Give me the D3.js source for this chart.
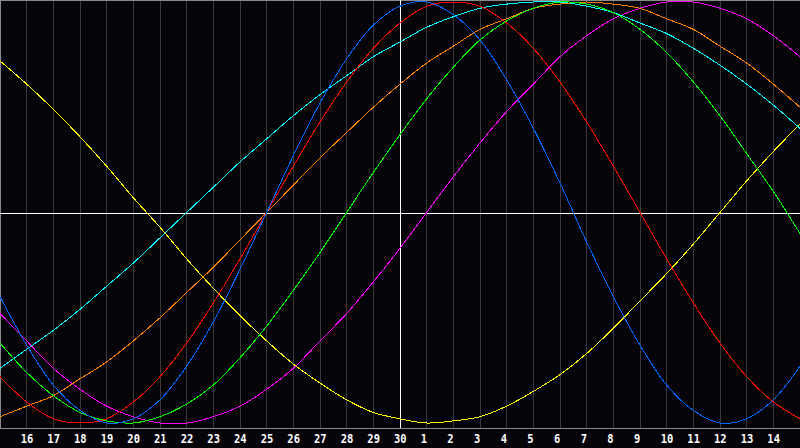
<!DOCTYPE html>
<html><head><meta charset="utf-8">
<script src="https://cdn.jsdelivr.net/npm/d3@7"></script>
<style>html,body{margin:0;padding:0;background:#050509;overflow:hidden}</style>
</head><body>
<svg id="c" width="800" height="448"></svg>
<script>
// Day tick labels (gridlines 1..29)
const dayLabels = ["16","17","18","19","20","21","22","23","24","25","26","27","28","29","30","1","2","3","4","5","6","7","8","9","10","11","12","13","14"];
// Sample positions (day index 0..30)
const dayIndex = d3.range(0, 31);
// Series values (percent, -100..100), read at each day line
const physical   = [-40,-63,-82,-94,-100,-98,-89,-73,-52,-27,0,27,52,73,89,98,100,94,82,63,40,14,-14,-40,-63,-82,-94,-100,-98,-89,-73];
const emotional  = [-78,-90,-98,-100,-98,-90,-78,-62,-43,-22,0,22,43,62,78,90,98,100,98,90,78,62,43,22,0,-22,-43,-62,-78,-90,-98];
const intellect  = [-62,-76,-87,-95,-99,-100,-97,-91,-82,-69,-54,-37,-19,0,19,37,54,69,82,91,97,100,99,95,87,76,62,46,28,10,-10];
const intuitive  = [-48,-61,-74,-84,-92,-97,-100,-100,-97,-92,-84,-74,-61,-48,-33,-17,0,17,33,48,61,74,84,92,97,100,100,97,92,84,74];
const aesthetic  = [72,61,49,36,22,7,-7,-22,-36,-49,-61,-72,-81,-89,-95,-98,-100,-99,-97,-92,-85,-77,-67,-55,-42,-29,-15,0,15,29,42];
const awareness  = [-97,-92,-87,-79,-71,-61,-50,-38,-26,-13,0,13,26,38,50,61,71,79,87,92,97,99,100,99,97,92,87,79,71,61,50];
const spiritual  = [-74,-65,-56,-46,-35,-24,-12,0,12,24,35,46,56,65,74,81,88,93,97,99,100,100,98,95,90,85,78,70,61,51,40];

const seriesNames = ["aesthetic","intuitive","spiritual","awareness","intellect","emotional","physical"];
const seriesValues = [aesthetic, intuitive, spiritual, awareness, intellect, emotional, physical];
const seriesColors = ["#ffff00","#ff00ff","#00ffff","#ff8000","#00ff00","#ff0000","#0066ff"];

const W = 800, H = 448, plotBottom = 428;
const svg = d3.select("#c");
const x = d3.scaleLinear().domain([0, 30]).range([0, W]);
const y = d3.scaleLinear().domain([-100, 100]).range([423, 2]);

svg.append("rect").attr("width", W).attr("height", H).attr("fill", "#050509");

// vertical grid lines via axis
const gridAxis = d3.axisBottom(x).tickValues(d3.range(1, 30)).tickSize(-plotBottom).tickFormat("");
const g = svg.append("g").attr("transform", `translate(0,${plotBottom})`).call(gridAxis);
g.select(".domain").remove();
g.selectAll(".tick line").attr("stroke", "#3a3a3a").attr("shape-rendering", "crispEdges");
g.selectAll(".tick").attr("transform", d => `translate(${Math.floor(x(d)) + 0.5},0)`);

// tick labels
const lab = svg.append("g");
lab.selectAll("text").data(dayLabels).join("text")
  .attr("x", (d, i) => x(i + 1) - 6)
  .attr("y", 443)
  .attr("fill", "#ffffff")
  .attr("font-family", "'DejaVu Sans Mono', monospace")
  .attr("font-weight", "bold")
  .attr("font-size", "12px")
  .attr("textLength", d => d.length * 6.3)
  .attr("lengthAdjust", "spacingAndGlyphs")
  .text(d => d);

// borders / baseline
svg.append("line").attr("x1", 0).attr("x2", W).attr("y1", 0.5).attr("y2", 0.5).attr("stroke", "#8a8a8a").attr("shape-rendering", "crispEdges");
svg.append("line").attr("x1", 0.5).attr("x2", 0.5).attr("y1", 0).attr("y2", plotBottom).attr("stroke", "#8a8a8a").attr("shape-rendering", "crispEdges");
svg.append("line").attr("x1", 0).attr("x2", W).attr("y1", plotBottom + 0.5).attr("y2", plotBottom + 0.5).attr("stroke", "#8a8a8a").attr("shape-rendering", "crispEdges");

// centre cross lines
svg.append("line").attr("x1", 0).attr("x2", W).attr("y1", Math.round(y(0)) + 0.5).attr("y2", Math.round(y(0)) + 0.5).attr("stroke", "#ffffff").attr("shape-rendering", "crispEdges");
svg.append("line").attr("x1", Math.floor(x(15)) + 0.5).attr("x2", Math.floor(x(15)) + 0.5).attr("y1", 0).attr("y2", plotBottom).attr("stroke", "#ffffff").attr("shape-rendering", "crispEdges");

// curves
const line = d3.line().x((d, i) => x(dayIndex[i])).y(d => y(d)).curve(d3.curveCatmullRom.alpha(0.5));
svg.append("g").selectAll("path").data(seriesValues).join("path")
  .attr("d", d => line(d))
  .attr("fill", "none")
  .attr("stroke", (d, i) => seriesColors[i])
  .attr("stroke-width", 1)
  .attr("shape-rendering", "crispEdges");
</script>
</body></html>
